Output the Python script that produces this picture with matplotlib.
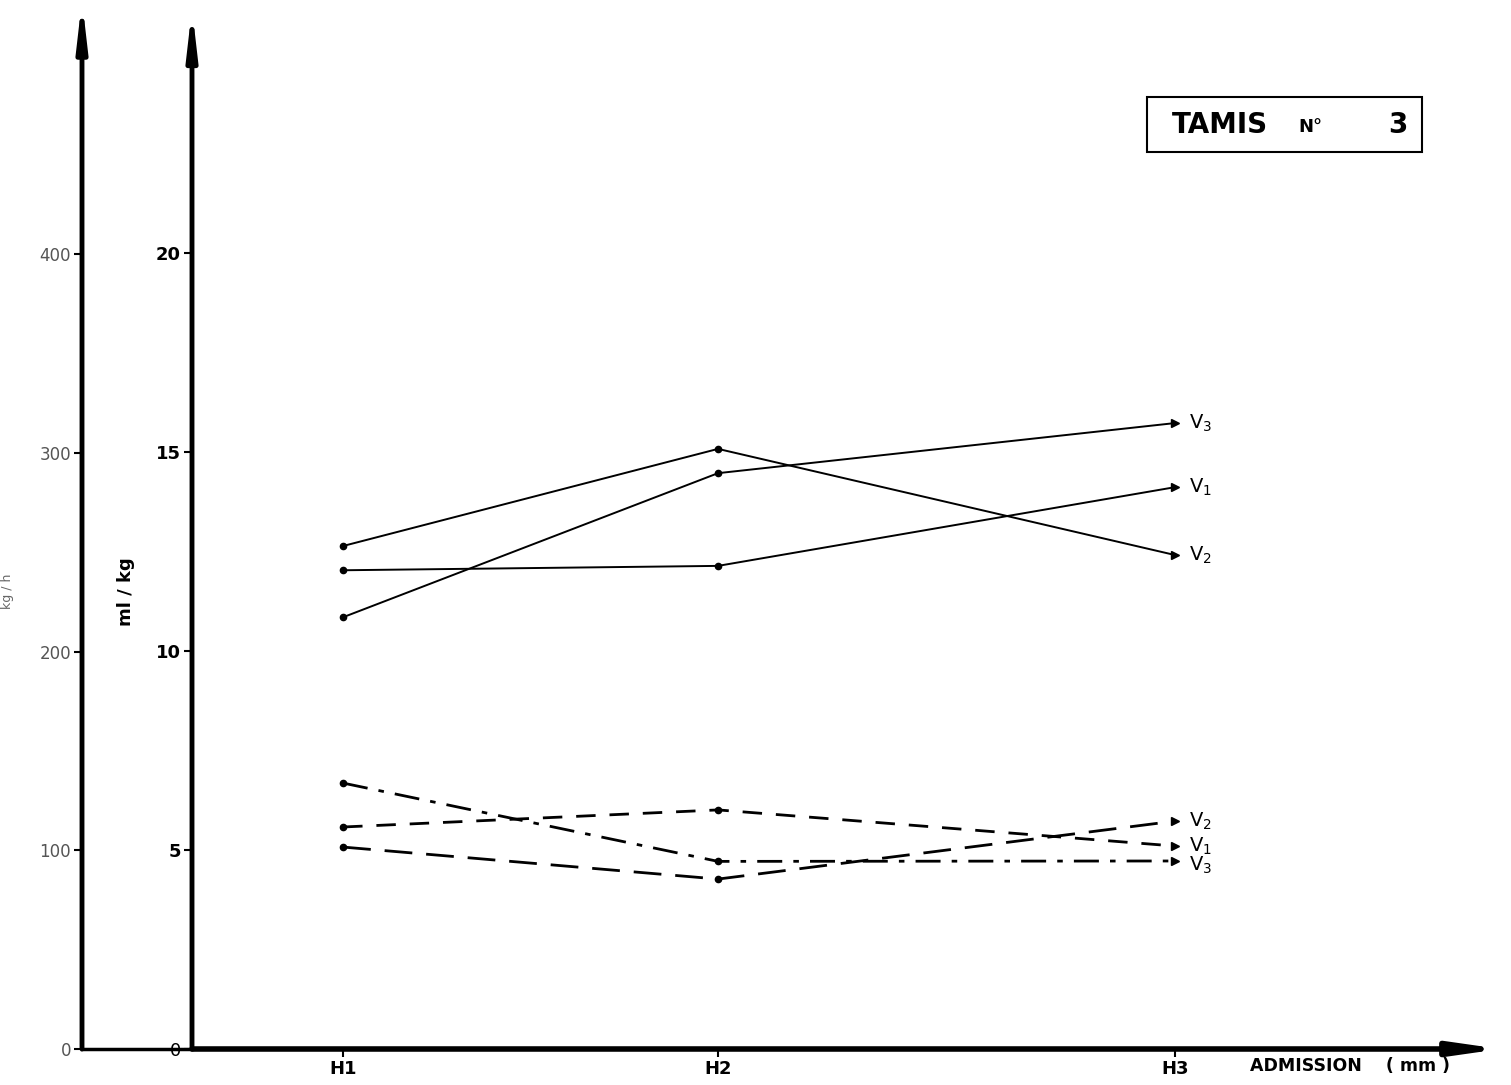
import matplotlib.pyplot as plt
from matplotlib.patches import Rectangle

plt.rcParams['font.family'] = ['DejaVu Sans']
plt.rcParams['mathtext.default'] = 'regular'

# admission positions (mm) of the three settings
admission = [1.0, 2.0, 3.22]
admission_labels = ["H1", "H2", "H3"]

# ml / kg (solid lines)
ml_v1 = [12.03, 12.14, 14.12]
ml_v2 = [12.64, 15.08, 12.41]
ml_v3 = [10.85, 14.47, 15.73]

# kg / h (dashed lines)
kg_v1 = [111.7, 120.3, 102.1]
kg_v2 = [101.6, 85.5, 114.7]
kg_v3 = [133.8, 94.4, 94.6]

ml_ticks = [0, 5, 10, 15, 20]
kg_ticks = [0, 100, 200, 300, 400]

fig = plt.figure(figsize=(15.11, 10.85), dpi=100)
ax = fig.add_axes([192 / 1511, 36 / 1085, 1319 / 1511, 1049 / 1085])
ax2 = ax.twinx()

ax.set_xlim(0.597, 4.115)
ax.set_ylim(0, 26.36)
ax2.set_ylim(0, 527.8)

for a in (ax, ax2):
    for s in a.spines.values():
        s.set_visible(False)
    a.patch.set_visible(False)

left_x = (82 - 192) / 1319

# axes drawn as arrows
arrow = dict(arrowstyle='-|>,head_length=2.6,head_width=0.3', color='black', lw=3.5,
             shrinkA=0, shrinkB=0)
ax.annotate('', xy=(0, 0.992), xytext=(0, 0), xycoords='axes fraction', arrowprops=arrow)
ax.annotate('', xy=(left_x, 1.0), xytext=(left_x, 0), xycoords='axes fraction', arrowprops=arrow)
ax.annotate('', xy=(0.992, 0), xytext=(0, 0), xycoords='axes fraction',
            arrowprops=dict(arrowstyle='-|>,head_length=2.8,head_width=0.4', color='black',
                            lw=4, shrinkA=0, shrinkB=0))
ax.plot([left_x, 0], [0, 0], transform=ax.transAxes, color='black', lw=2.5, clip_on=False)

# ticks
ax.set_yticks(ml_ticks)
ax.set_yticklabels([str(t) for t in ml_ticks], fontsize=13, fontweight='bold')
ax.get_yticklabels()[0].set_fontweight('normal')
ax.tick_params(axis='y', direction='out', length=6, width=1.5, pad=2)
ax.set_xticks(admission)
ax.set_xticklabels(admission_labels, fontsize=13, fontweight='bold')
ax.tick_params(axis='x', direction='out', length=6, width=1.5, pad=2)

ax2.yaxis.set_ticks_position('left')
ax2.yaxis.set_label_position('left')
ax2.spines['left'].set_position(('axes', left_x))
ax2.set_yticks(kg_ticks)
ax2.set_yticklabels([str(t) for t in kg_ticks], fontsize=12, color='#555555')
ax2.tick_params(axis='y', direction='out', length=6, width=1.5, pad=2)

ax.set_ylabel("ml / kg", fontsize=13, fontweight='bold')
ax.yaxis.set_label_coords(-0.043, 0.436)
ax2.set_ylabel("kg / h", fontsize=9, color='#666666')
ax2.yaxis.set_label_coords(-0.135, 0.436)

ax.text(0.954, -0.016, "ADMISSION    ( mm )", transform=ax.transAxes, ha='right', va='center',
        fontsize=12.5, fontweight='bold')

# solid lines
for vals, lab in ((ml_v3, "$V_3$"), (ml_v1, "$V_1$"), (ml_v2, "$V_2$")):
    ax.plot(admission, vals, color='black', lw=1.4)
    ax.plot(admission[:2], vals[:2], 'o', color='black', ms=4.5)
    ax.plot(admission[2:], vals[2:], '>', color='black', ms=6)
    ax.annotate(lab, (admission[2], vals[2]), xytext=(10, 0), textcoords='offset points',
                fontsize=14, va='center', ha='left')

# dashed lines
dashes = {"$V_3$": (0, (9, 4, 2, 4)), "$V_1$": (0, (7, 5)), "$V_2$": (0, (10, 5))}
for vals, lab, yoff in ((kg_v2, "$V_2$", 0), (kg_v1, "$V_1$", 0), (kg_v3, "$V_3$", -3)):
    ax2.plot(admission, vals, color='black', lw=2, linestyle=dashes[lab])
    ax2.plot(admission[:2], vals[:2], 'o', color='black', ms=4.5)
    ax2.plot(admission[2:], vals[2:], '>', color='black', ms=6)
    ax2.annotate(lab, (admission[2], vals[2]), xytext=(10, yoff), textcoords='offset points',
                 fontsize=14, va='center', ha='left')

# title box
fig.patches.append(Rectangle((1147 / 1511, 1 - 152 / 1085), 275 / 1511, 55 / 1085,
                             transform=fig.transFigure, facecolor='white',
                             edgecolor='black', lw=1.5))
fig.text(1220 / 1511, 1 - 125 / 1085, "TAMIS", fontsize=20, fontweight='bold',
         ha='center', va='center')
fig.text(1310 / 1511, 1 - 127 / 1085, "N°", fontsize=13, fontweight='bold',
         ha='center', va='center')
fig.text(1398 / 1511, 1 - 125 / 1085, "3", fontsize=20, fontweight='bold',
         ha='center', va='center')

fig.savefig("out.png", dpi=100)
